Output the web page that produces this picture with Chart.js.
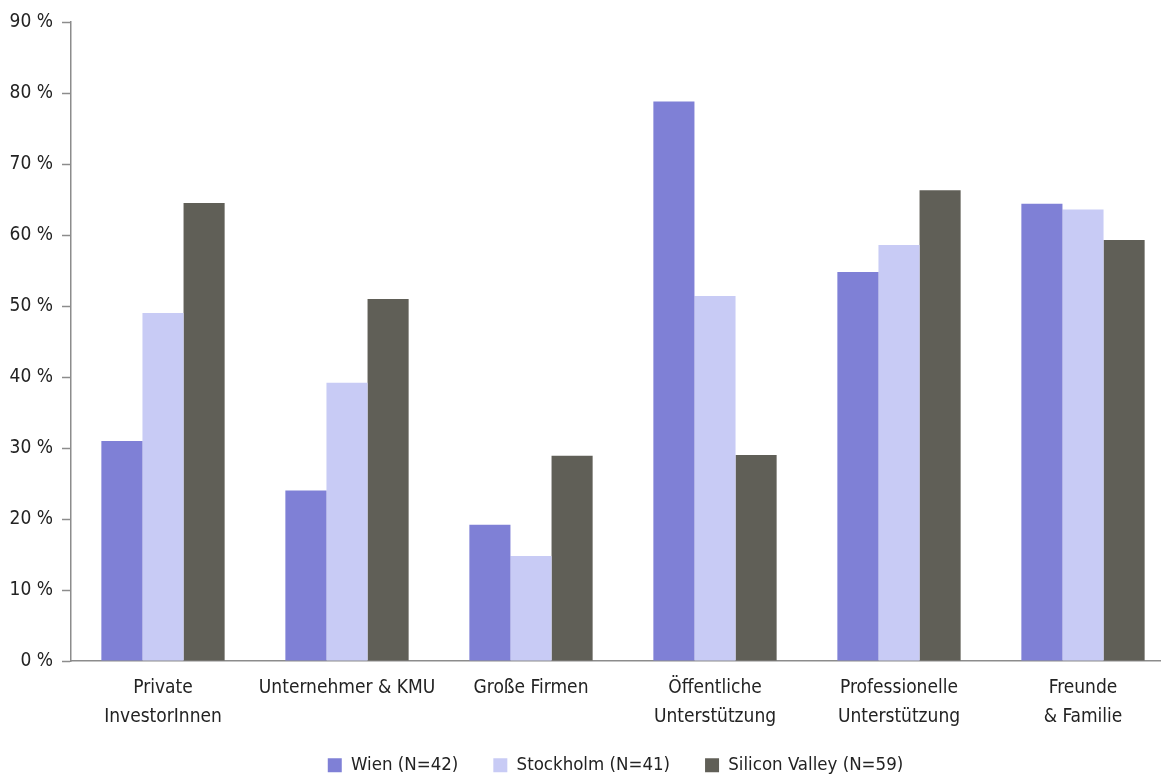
<!DOCTYPE html>
<html>
<head>
<meta charset="utf-8">
<script src="https://cdn.jsdelivr.net/npm/chart.js@4/dist/chart.umd.min.js"></script>
<style>
  html, body { margin: 0; padding: 0; background: #ffffff; overflow: hidden; }
  #wrap { width: 1161px; height: 781px; position: relative; overflow: hidden; }
</style>
</head>
<body>
<div id="wrap"><canvas id="chart" width="1175" height="781"></canvas></div>
<script>
// Finanzierungsquellen nach Standort (Anteil der Befragten in %)
const categories = [
  ['Private', 'InvestorInnen'],
  'Unternehmer & KMU',
  'Große Firmen',
  ['Öffentliche', 'Unterstützung'],
  ['Professionelle', 'Unterstützung'],
  ['Freunde', '& Familie']
];
const seriesNames = ['Wien (N=42)', 'Stockholm (N=41)', 'Silicon Valley (N=59)'];
const wien          = [31.0, 24.0, 19.2, 78.8, 54.8, 64.4];
const stockholm     = [49.0, 39.2, 14.8, 51.4, 58.6, 63.6];
const siliconValley = [64.5, 51.0, 28.9, 29.0, 66.3, 59.3];
const yTickValues   = [0, 10, 20, 30, 40, 50, 60, 70, 80, 90];

const seriesColors = ['#7f80d6', '#c8cbf5', '#605f57'];
const fontFamily = "'Liberation Sans Narrow', 'DejaVu Sans Condensed', 'Roboto Condensed', 'Liberation Sans', sans-serif";
const axisColor = '#8c8c8c';
const textColor = '#232323';

// fixes the legend box height and moves the legend row after layout
const legendPlace = {
  id: 'legendPlace',
  beforeLayout(chart, args, opts) {
    const lg = chart.legend;
    if (lg && !lg.__fixedFit) {
      const fit = lg.fit;
      lg.fit = function () { fit.call(this); this.height = opts.height; };
      lg.__fixedFit = true;
    }
  },
  afterLayout(chart, args, opts) {
    const lg = chart.legend;
    if (!lg) return;
    lg.left += opts.dx; lg.right += opts.dx;
    lg.top += opts.dy;
    lg.bottom = chart.height;
  }
};

new Chart(document.getElementById('chart'), {
  type: 'bar',
  data: {
    labels: categories,
    datasets: [wien, stockholm, siliconValley].map((values, i) => ({
      label: seriesNames[i],
      data: values,
      backgroundColor: seriesColors[i],
      borderWidth: 0,
      barPercentage: 1.0,
      categoryPercentage: 0.67
    }))
  },
  options: {
    responsive: false,
    animation: false,
    devicePixelRatio: 1,
    layout: { padding: { top: 22, right: 0, left: 0, bottom: 0 } },
    plugins: {
      legend: {
        position: 'bottom',
        labels: {
          boxWidth: 14,
          boxHeight: 14,
          padding: 35,
          color: textColor,
          font: { family: fontFamily, size: 18.5 }
        }
      },
      legendPlace: { height: 36, dx: 28, dy: -24 },
      tooltip: { enabled: false }
    },
    scales: {
      x: {
        grid: { display: false },
        border: { display: true, color: axisColor, width: 1.5 },
        ticks: {
          color: textColor,
          padding: 4,
          maxRotation: 0,
          autoSkip: false,
          font: { family: fontFamily, size: 19, lineHeight: 1.55 }
        },
        afterFit(scale) { scale.height = 84; }
      },
      y: {
        min: 0,
        max: 90,
        afterBuildTicks(scale) { scale.ticks = yTickValues.map(v => ({ value: v })); },
        grid: {
          drawOnChartArea: false,
          drawTicks: true,
          tickLength: 9,
          tickColor: axisColor,
          tickWidth: 1.5
        },
        border: { display: true, color: axisColor, width: 1.5 },
        ticks: {
          color: textColor,
          padding: 9,
          font: { family: fontFamily, size: 19 },
          callback: v => v + ' %'
        },
        afterFit(scale) { scale.width = 71; }
      }
    }
  },
  plugins: [legendPlace]
});
</script>
</body>
</html>
